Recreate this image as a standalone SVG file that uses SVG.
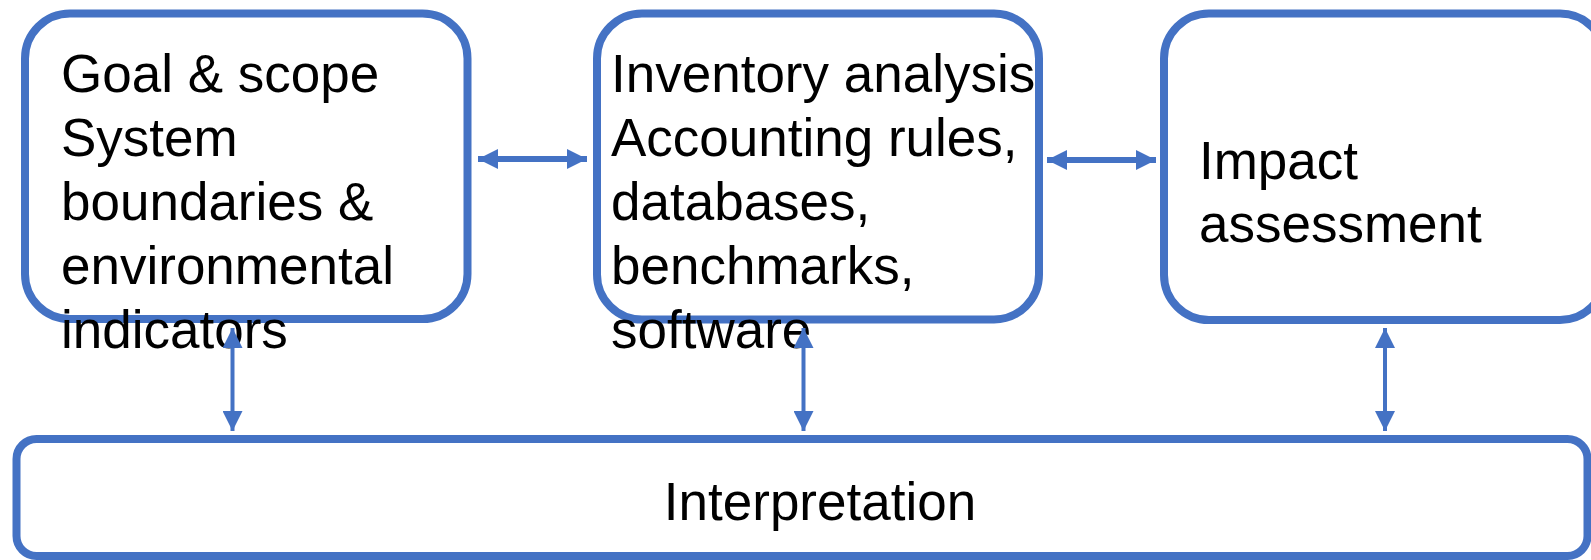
<svg xmlns="http://www.w3.org/2000/svg" width="1591" height="560" viewBox="0 0 1591 560">
  <style>
    .box { fill: #ffffff; stroke: #4472C4; stroke-width: 8; }
    .lbl { font-family: "Liberation Sans", Arial, sans-serif; font-size: 53px; fill: #000000; }
    .h { stroke: #4472C4; stroke-width: 6; fill: none; }
    .v { stroke: #4472C4; stroke-width: 4; fill: none; }
  </style>
  <defs>
    <marker id="ah" markerUnits="userSpaceOnUse" viewBox="0 0 20 20" refX="20" refY="10" markerWidth="20" markerHeight="20" orient="auto-start-reverse">
      <path d="M0,0 L20,10 L0,20 Z" fill="#4472C4"/>
    </marker>
  </defs>
  <rect width="1591" height="560" fill="#ffffff"/>
  <g id="goal">
    <rect class="box" x="25" y="13.5" width="442.5" height="305.5" rx="45" ry="45"/>
    <text class="lbl" x="61" y="92">
      <tspan x="61" y="92">Goal &amp; scope</tspan>
      <tspan x="61" y="156">System</tspan>
      <tspan x="61" y="220">boundaries &amp;</tspan>
      <tspan x="61" y="284">environmental</tspan>
      <tspan x="61" y="348">indicators</tspan>
    </text>
  </g>
  <g id="inventory">
    <rect class="box" x="597" y="13.5" width="442" height="306" rx="45" ry="45"/>
    <text class="lbl">
      <tspan x="611" y="92">Inventory analysis</tspan>
      <tspan x="611" y="156">Accounting rules,</tspan>
      <tspan x="611" y="220">databases,</tspan>
      <tspan x="611" y="284">benchmarks,</tspan>
      <tspan x="611" y="348">software</tspan>
    </text>
  </g>
  <g id="impact">
    <rect class="box" x="1164" y="13.5" width="441" height="306.5" rx="45" ry="45"/>
    <text class="lbl">
      <tspan x="1199" y="179">Impact</tspan>
      <tspan x="1199" y="242">assessment</tspan>
    </text>
  </g>
  <g id="interpretation">
    <rect class="box" x="16.5" y="439" width="1571" height="117" rx="20" ry="20"/>
    <text class="lbl" x="820" y="520" text-anchor="middle">Interpretation</text>
  </g>
  <g id="connectors">
    <line class="h" x1="478" y1="159" x2="587" y2="159" marker-start="url(#ah)" marker-end="url(#ah)"/>
    <line class="h" x1="1047" y1="160" x2="1156" y2="160" marker-start="url(#ah)" marker-end="url(#ah)"/>
    <line class="v" x1="232.5" y1="328" x2="232.5" y2="431" marker-start="url(#ah)" marker-end="url(#ah)"/>
    <line class="v" x1="803.5" y1="328" x2="803.5" y2="431" marker-start="url(#ah)" marker-end="url(#ah)"/>
    <line class="v" x1="1385" y1="328" x2="1385" y2="431" marker-start="url(#ah)" marker-end="url(#ah)"/>
  </g>
</svg>
